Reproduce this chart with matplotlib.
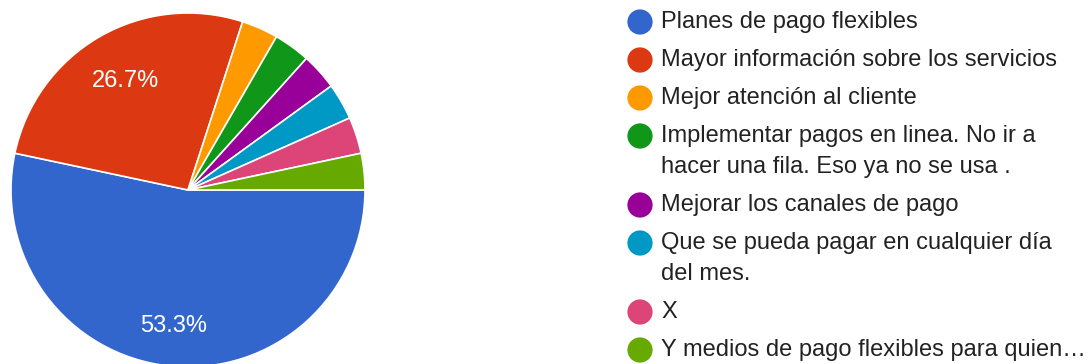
import numpy as np
import matplotlib.pyplot as plt

plt.rcParams['font.family'] = ['Liberation Sans', 'DejaVu Sans']

# Survey answers (30 responses)
labels = [
    'Planes de pago flexibles',
    'Mayor información sobre los servicios',
    'Mejor atención al cliente',
    'Implementar pagos en linea. No ir a\nhacer una fila. Eso ya no se usa .',
    'Mejorar los canales de pago',
    'Que se pueda pagar en cualquier día\ndel mes.',
    'X',
    'Y medios de pago flexibles para quien…',
]
counts = [16, 8, 1, 1, 1, 1, 1, 1]
colors = ['#3366cc', '#dc3912', '#ff9900', '#109618',
          '#990099', '#0099c6', '#dd4477', '#66aa00']

W, H = 1089, 364
fig = plt.figure(figsize=(W / 100, H / 100), dpi=100)

# pie: center (188, 190) px, radius 177 px
cx, cy, r = 188, 190, 177
ax = fig.add_axes([(cx - r) / W, (H - cy - r) / H, 2 * r / W, 2 * r / H])


def pct_label(p):
    return f'{p:.1f}%' if p > 5 else ''


wedges, _, autotexts = ax.pie(
    counts, colors=colors, startangle=0, counterclock=False,
    autopct=pct_label, pctdistance=0.72, radius=1.0,
    wedgeprops=dict(edgecolor='white', linewidth=1.2),
    textprops=dict(color='white', fontsize=17))

# push the label of the big slice a bit further out
for w, t, d in zip(wedges, autotexts, [0.77, 0.71]):
    mid = np.deg2rad((w.theta1 + w.theta2) / 2)
    t.set_position((d * np.cos(mid), d * np.sin(mid)))

ax.set_xlim(-1, 1)
ax.set_ylim(-1, 1)
ax.set_aspect('equal')

# legend drawn in pixel coordinates
lg = fig.add_axes([0, 0, 1, 1], zorder=-1)
lg.set_xlim(0, W)
lg.set_ylim(H, 0)
lg.axis('off')

y = 22
for lab, col in zip(labels, colors):
    lg.scatter(640, y, s=330, color=col, edgecolors='none')
    lines = lab.split('\n')
    for i, line in enumerate(lines):
        lg.text(661, y + i * 31, line, fontsize=17, color='#222222',
                va='center', ha='left')
    y += 38 + 31 * (len(lines) - 1)

fig.savefig('out.png', dpi=100, facecolor='white')
